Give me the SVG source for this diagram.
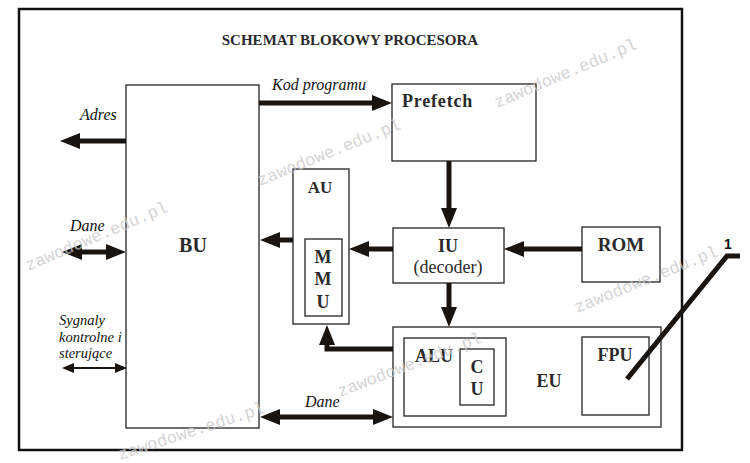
<svg xmlns="http://www.w3.org/2000/svg" width="750" height="463" viewBox="0 0 750 463">
<style>
.box{fill:#fff;stroke:#222;stroke-width:1.3}
.frame{fill:#fff;stroke:#111;stroke-width:2.5}
.b{font-family:"Liberation Serif",serif;font-weight:bold;fill:#2a2a2a;text-anchor:middle}
.r{font-family:"Liberation Serif",serif;fill:#2a2a2a;text-anchor:middle}
.i{font-family:"Liberation Serif",serif;font-style:italic;fill:#111}
.wire{stroke:#1a1410;stroke-width:5;fill:none}
.thin{stroke:#1a1410;stroke-width:2;fill:none}
.wm{font-family:"Liberation Mono",monospace;font-size:17px;fill:#c8c8c8;fill-opacity:0.8}
</style>
<defs>
<marker id="ah" markerUnits="userSpaceOnUse" markerWidth="20" markerHeight="16" viewBox="0 0 20 16" refX="0" refY="8" orient="auto-start-reverse"><path d="M0,0 L20,8 L0,16 z" fill="#1a1410"/></marker>
<marker id="ahs" markerUnits="userSpaceOnUse" markerWidth="12" markerHeight="10" viewBox="0 0 12 10" refX="0" refY="5" orient="auto-start-reverse"><path d="M0,0 L12,5 L0,10 z" fill="#1a1410"/></marker>
</defs>
<rect x="19" y="9" width="663" height="441" class="frame"/>
<text x="350" y="45" class="b" font-size="15" fill="#111">SCHEMAT BLOKOWY PROCESORA</text>

<g id="BU"><rect x="126" y="85" width="133" height="343" class="box"/><text x="193" y="252" class="b" font-size="20">BU</text></g>
<g id="Prefetch"><rect x="392" y="84" width="144" height="77" class="box"/><text x="402" y="107" class="b" font-size="18" style="text-anchor:start;letter-spacing:0.8px">Prefetch</text></g>
<g id="AU"><rect x="293" y="169" width="56" height="155" class="box"/><text x="320" y="193" class="b" font-size="17">AU</text></g>
<g id="MMU"><rect x="305" y="239" width="37" height="77" class="box"/><text x="323" y="263" class="b" font-size="18">M</text><text x="323" y="285" class="b" font-size="18">M</text><text x="323" y="308" class="b" font-size="18">U</text></g>
<g id="IU"><rect x="393" y="228" width="111" height="55" class="box"/><text x="448" y="252" class="b" font-size="18" fill="#555">IU</text><text x="448" y="273" class="r" font-size="18">(decoder)</text></g>
<g id="ROM"><rect x="582" y="227" width="78" height="55" class="box"/><text x="621" y="251" class="b" font-size="19">ROM</text></g>
<g id="EU"><rect x="393" y="327" width="268" height="100" class="box"/><text x="549" y="387" class="b" font-size="18" fill="#555">EU</text></g>
<g id="ALU"><rect x="404" y="338" width="102" height="78" class="box"/><text x="415" y="362" class="b" font-size="18" style="text-anchor:start">ALU</text></g>
<g id="CU"><rect x="460" y="349" width="34" height="56" class="box"/><text x="477" y="373" class="b" font-size="18">C</text><text x="477" y="395" class="b" font-size="18">U</text></g>
<g id="FPU"><rect x="582" y="337" width="67" height="78" class="box"/><text x="615" y="361" class="b" font-size="18">FPU</text></g>

<g id="connectors">
<line x1="126" y1="141" x2="80" y2="141" class="wire" marker-end="url(#ah)"/>
<line x1="82" y1="252" x2="106" y2="252" class="wire" marker-start="url(#ah)" marker-end="url(#ah)"/>
<line x1="74" y1="368" x2="115" y2="368" class="thin" marker-start="url(#ahs)" marker-end="url(#ahs)"/>
<line x1="259" y1="103" x2="372" y2="103" class="wire" stroke-width="6" marker-end="url(#ah)"/>
<line x1="449" y1="161" x2="449" y2="208" class="wire" marker-end="url(#ah)"/>
<line x1="293" y1="240" x2="280" y2="240" class="wire" marker-end="url(#ah)"/>
<line x1="393" y1="249" x2="369" y2="249" class="wire" marker-end="url(#ah)"/>
<line x1="582" y1="249" x2="524" y2="249" class="wire" marker-end="url(#ah)"/>
<line x1="449" y1="283" x2="449" y2="307" class="wire" marker-end="url(#ah)"/>
<path d="M393,349 H327 V345" class="wire" marker-end="url(#ah)"/>
<line x1="280" y1="417" x2="373" y2="417" class="wire" marker-start="url(#ah)" marker-end="url(#ah)"/>
<polyline points="627,379 727,256 740,256" class="wire" stroke-width="4"/>
</g>

<g id="labels">
<text x="80" y="120" class="i" font-size="16">Adres</text>
<text x="70" y="231" class="i" font-size="16">Dane</text>
<text x="59" y="325" class="i" font-size="14.5">Sygnaly</text>
<text x="59" y="342" class="i" font-size="14.5">kontrolne i</text>
<text x="59" y="358" class="i" font-size="14.5">sterujące</text>
<text x="272" y="90" class="i" font-size="16">Kod programu</text>
<text x="305" y="407" class="i" font-size="16">Dane</text>
<text x="728" y="249" font-family="Liberation Sans,sans-serif" font-weight="bold" font-size="14" text-anchor="middle" fill="#111">1</text>
</g>

<g id="watermarks">
<text class="wm" transform="translate(497,108) rotate(-23)">zawodowe.edu.pl</text>
<text class="wm" transform="translate(260,186) rotate(-22)">zawodowe.edu.pl</text>
<text class="wm" transform="translate(28,271) rotate(-23)">zawodowe.edu.pl</text>
<text class="wm" transform="translate(577,313) rotate(-22)">zawodowe.edu.pl</text>
<text class="wm" transform="translate(340,397) rotate(-21)">zawodowe.edu.pl</text>
<text class="wm" transform="translate(120,460) rotate(-18)">zawodowe.edu.pl</text>
</g>
</svg>
